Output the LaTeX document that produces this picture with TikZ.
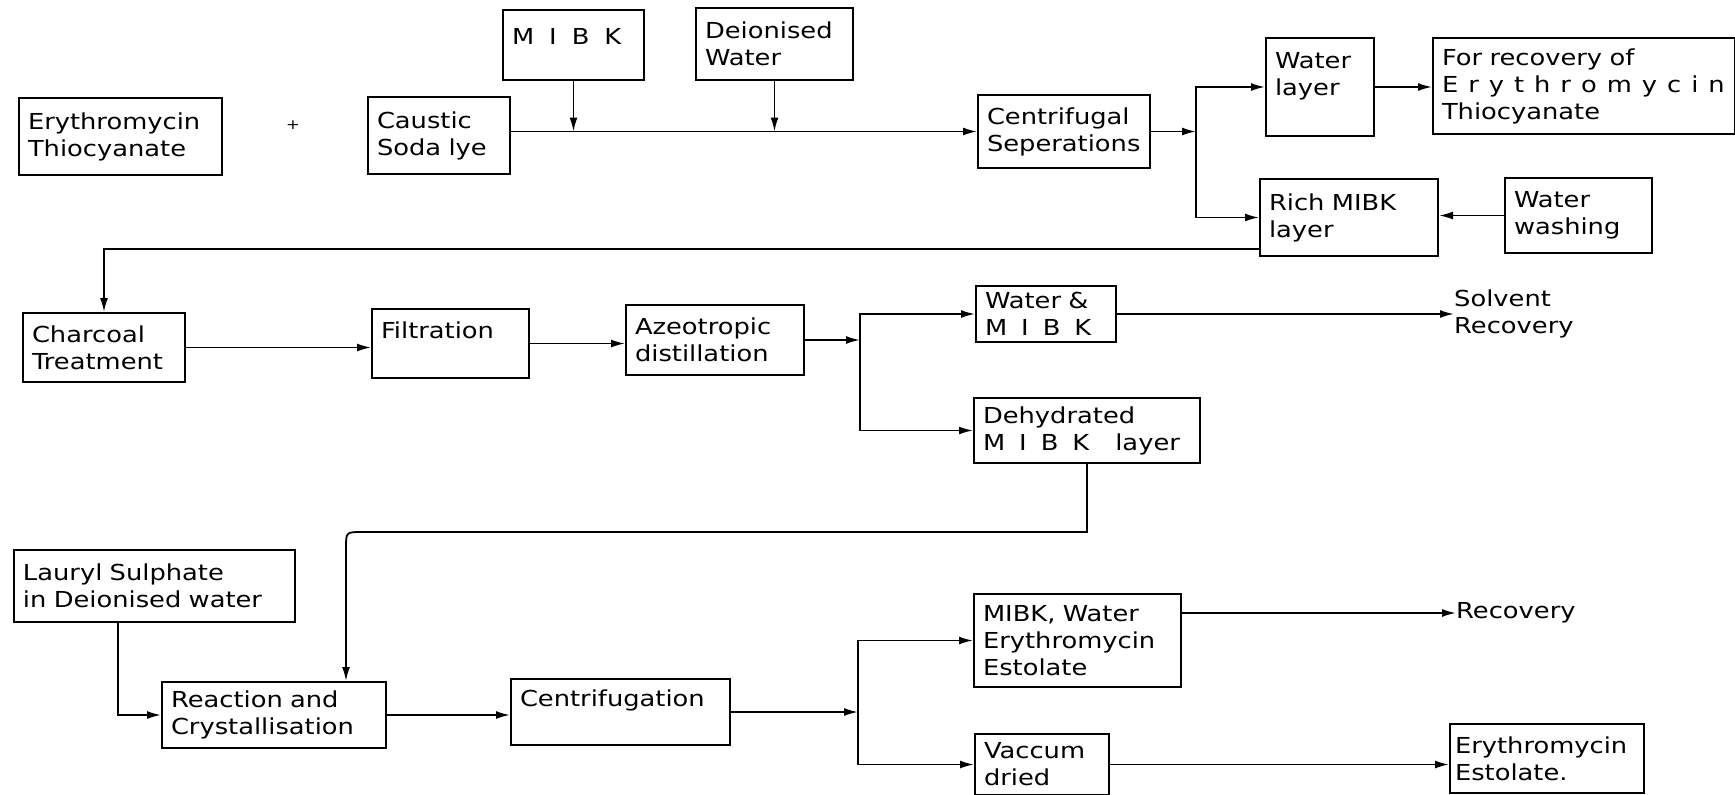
\documentclass[tikz,border=0pt]{standalone}
\usepackage{fontspec}
\setmainfont{DejaVu Sans}[FakeStretch=1.17]
\usetikzlibrary{arrows.meta,positioning,calc}
\hyphenpenalty=10000
\exhyphenpenalty=10000

\begin{document}
\begin{tikzpicture}[
    x=1pt, y=-1pt,
    box/.style={draw, line width=2pt, anchor=north west, align=left, inner xsep=9pt, inner ysep=0pt, font=\fontsize{22}{27}\selectfont},
    lbl/.style={anchor=north west, align=left, inner sep=0pt, font=\fontsize{22}{27}\selectfont},
    arr/.style={-{Latex[length=14pt,width=8pt]}, line width=1.8pt}
]
\useasboundingbox (0,0) rectangle (1735,795);

\node[box, text width=185pt, minimum height=77pt] (ery) at (18,97) {Erythromycin\\Thiocyanate};
\node[font=\fontsize{14}{14}\selectfont] (plus) at (293,125) {+};
\node[box, text width=124pt, minimum height=77pt] (caustic) at (367,96) {Caustic\\Soda lye};
\node[box, text width=123pt, text height=34pt, text depth=36pt] (mibk) at (502,9) {M\hspace{15pt}I\hspace{15pt}B\hspace{15pt}K};
\node[box, text width=139pt, minimum height=72pt] (deion) at (695,7) {Deionised\\Water};
\node[box, text width=154pt, minimum height=73pt] (centrif) at (977,94) {Centrifugal\\Seperations};
\node[box, text width=90pt, text height=30pt, text depth=68pt] (waterlayer) at (1265,37) {Water\\layer};
\node[box, text width=284pt, minimum height=96pt] (recov1) at (1432,37) {For recovery of\\E\hspace{10pt}r\hspace{10pt}y\hspace{10pt}t\hspace{10pt}h\hspace{10pt}r\hspace{10pt}o\hspace{10pt}m\hspace{10pt}y\hspace{10pt}c\hspace{10pt}i\hspace{10pt}n\\Thiocyanate};
\node[box, text width=160pt, minimum height=77pt] (rich) at (1259,178) {Rich MIBK\\layer};
\node[box, text width=129pt, minimum height=75pt] (washing) at (1504,177) {Water\\washing};

\node[box, text width=144pt, minimum height=69pt] (charcoal) at (22,312) {Charcoal\\Treatment};
\node[box, text width=139pt, text height=29pt, text depth=40pt] (filtration) at (371,308) {Filtration};
\node[box, text width=160pt, minimum height=70pt] (azeo) at (625,304) {Azeotropic\\distillation};
\node[box, text width=122pt, minimum height=56pt] (watermibk) at (975,285) {Water \&\\M\hspace{14pt}I\hspace{14pt}B\hspace{14pt}K};
\node[lbl] (solvent) at (1454,290) {Solvent\\Recovery};
\node[box, text width=208pt, minimum height=65pt] (dehyd) at (973,397) {Dehydrated\\M\hspace{14pt}I\hspace{14pt}B\hspace{14pt}K\hspace{26pt}layer};

\node[box, text width=263pt, minimum height=72pt] (lauryl) at (13,549) {Lauryl Sulphate\\in Deionised water};
\node[box, text width=206pt, minimum height=66pt] (reaction) at (161,681) {Reaction and\\Crystallisation};
\node[box, text width=201pt, text height=27pt, text depth=39pt] (centrifugation) at (510,678) {Centrifugation};
\node[box, text width=189pt, minimum height=93pt] (mibkwater) at (973,593) {MIBK, Water\\Erythromycin\\Estolate};
\node[lbl, anchor=west] (recov2) at (1456,613) {Recovery};
\node[box, text width=116pt, minimum height=61pt] (vaccum) at (974,733) {Vaccum\\dried};
\node[box, inner xsep=5pt, text width=184pt, minimum height=69pt] (estolate) at (1449,723) {Erythromycin\\Estolate.};

\coordinate (split1) at ($(centrif.east)+(45,0)$);
\coordinate (back1) at ($(rich.south west)+(0,-8)$);
\coordinate (split2) at ($(azeo.east)+(55,0)$);
\coordinate (bend) at (346,532);
\coordinate (feed) at (118,712);
\coordinate (split3) at ($(centrifugation.east)+(127,0)$);

\draw[arr] (caustic.east |- centrif.west) -- (centrif.west);
\draw[arr] (mibk.south) -- (mibk.south |- centrif.west);
\draw[arr] (deion.south) -- (deion.south |- centrif.west);
\draw[arr] (centrif.east) -- (split1);
\draw[arr] (split1) |- (waterlayer.west);
\draw[arr] (split1) |- (rich.west);
\draw[arr] (waterlayer.east) -- (recov1.west |- waterlayer.east);
\draw[arr] (washing.west) -- (rich.east |- washing.west);
\draw[arr] (back1) -| (charcoal.north);

\draw[arr] (charcoal.east) -- (filtration.west |- charcoal.east);
\draw[arr] (filtration.east) -- (azeo.west |- filtration.east);
\draw[arr] (azeo.east) -- (split2);
\draw[arr] (split2) |- (watermibk.west);
\draw[arr] (split2) |- (dehyd.west);
\draw[arr] (watermibk.east) -- (solvent.west |- watermibk.east);
\draw[arr] (dehyd.south) |- ($(bend)+(16,0)$) .. controls (bend) .. ($(bend)+(0,16)$) -- (bend |- reaction.north);

\draw[arr] (lauryl.south -| feed) |- (reaction.west);
\draw[arr] (reaction.east) -- (centrifugation.west |- reaction.east);
\draw[arr] (centrifugation.east) -- (split3);
\draw[arr] (split3) |- (mibkwater.west);
\draw[arr] (split3) |- (vaccum.west);
\draw[arr] (mibkwater.east |- recov2.west) -- (recov2.west);
\draw[arr] (vaccum.east) -- (estolate.west |- vaccum.east);
\end{tikzpicture}
\end{document}
